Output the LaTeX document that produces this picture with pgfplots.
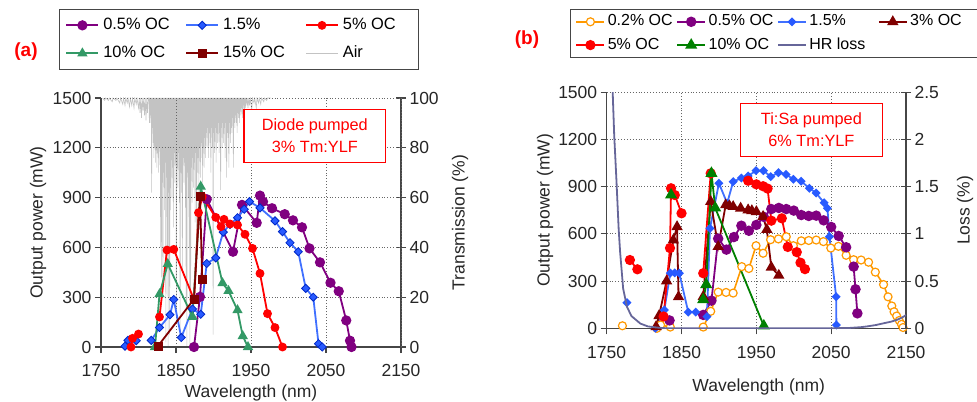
\documentclass[border=0pt]{standalone}
\usepackage{pgfplots}
\pgfplotsset{compat=1.18}
\usepackage{fontspec}
\setmainfont{Liberation Sans}
\definecolor{cPurple}{RGB}{128,0,128}
\definecolor{cBlueL}{RGB}{64,112,255}
\definecolor{cBlueF}{RGB}{40,90,255}
\definecolor{cBlueD}{RGB}{0,40,200}
\definecolor{cRed}{RGB}{255,0,0}
\definecolor{cSea}{RGB}{51,153,102}
\definecolor{cGreen}{RGB}{0,128,0}
\definecolor{cDRed}{RGB}{128,0,0}
\definecolor{cOrange}{RGB}{255,153,0}
\definecolor{cAir}{RGB}{195,195,195}
\definecolor{cHR}{RGB}{102,102,153}
\definecolor{cAxis}{RGB}{70,70,70}
\pgfplotsset{
  base/.style={
    scale only axis,
    xmin=1750, xmax=2150,
    /pgf/number format/1000 sep={},
    /pgf/number format/assume math mode=true,
    tick label style={font=\fontsize{17.5bp}{20bp}\selectfont, text=black!85},
    label style={font=\fontsize{17.5bp}{20bp}\selectfont, text=black!85},
    axis line style={cAxis, line width=1.1bp, -},
    tick style={cAxis, line width=1.1bp},
    major tick length=6bp,
    tick align=outside,
  },
  mainax/.style={base,
    axis x line*=bottom, axis y line*=left,
    xtick={1750,1850,...,2150},
    xticklabel style={yshift=-8bp},
    ymin=0, ymax=1500, ytick={0,300,...,1500},
    grid=major,
    major grid style={black!60, line width=0.9bp, dotted},
    clip=false, unbounded coords=jump,
    ylabel={Output power (mW)}, xlabel={Wavelength (nm)},
  },
  secax/.style={base, hide x axis, axis y line*=right, tick align=center, major tick length=10bp},
  ln/.style={line width=1.8bp},
}
\begin{document}
\begin{tikzpicture}
\useasboundingbox (0,0) rectangle (977bp,402bp);
\node[text=cRed, font=\bfseries\fontsize{19bp}{22bp}\selectfont] at (26bp,350bp) {(a)};
\node[text=cRed, font=\bfseries\fontsize{19bp}{22bp}\selectfont] at (527bp,362bp) {(b)};
% ---------------- (a) secondary: Air transmission
\begin{axis}[secax, at={(101bp,55bp)}, anchor=south west, width=300bp, height=249bp,
  ymin=0, ymax=100, ytick={0,20,...,100}, ylabel={Transmission (\%)},
  ylabel style={at={(axis description cs:1.197,0.5)}, anchor=center}]
\addplot[cAir, line width=0.6bp] coordinates {
(1752,100)(1755,99)(1756,100)(1760,99)(1761,100)(1765,98.5)(1766,100)(1770,99)(1771,100)(1775,98)(1776,100)(1779,97.5)(1780,100)(1782,97)(1783,100)(1785,98)(1786,100)(1788,96.5)(1789,100)(1791,97)(1792,100)(1794,96)(1795,100)(1797,97.5)(1798,100)(1800,96)(1801,100)(1802,94)(1803,100)(1804,92)(1805,100)(1806,95)(1807,100)(1808,93)(1809,100)(1810,91)(1811,100)(1812,94)(1813,100)
(1814,100)(1814.5,90)(1815,100)(1815.5,90)(1816,100)(1816.5,93)(1817,100)(1817.5,62)(1818,100)(1818.5,88)(1819,100)(1819.5,82)(1820,100)(1820.5,76)(1821,100)(1821.5,80)(1822,100)(1822.5,74)(1823,100)(1823.5,79)(1824,100)(1824.5,72)(1825,100)(1825.5,78)(1826,100)(1826.5,70)(1827,100)(1827.5,80)(1828,100)(1828.5,73)(1829,100)(1829.5,40)(1830,100)(1830.5,28)(1831,100)(1831.5,66)(1832,100)(1832.5,20)(1833,100)(1833.5,70)(1834,100)(1834.5,55)(1835,100)(1835.5,74)(1836,100)(1836.5,2)(1837,100)(1837.5,68)(1838,100)(1838.5,40)(1839,100)(1839.5,0)(1840,100)(1840.5,62)(1841,100)(1841.5,5)(1842,100)(1842.5,55)(1843,100)(1843.5,75)(1844,100)(1844.5,60)(1845,100)(1845.5,72)(1846,100)(1846.5,48)(1847,100)(1847.5,78)(1848,100)(1848.5,66)(1849,100)(1849.5,74)(1850,100)(1850.5,10)(1851,100)(1851.5,72)(1852,100)(1852.5,64)(1853,100)(1853.5,78)(1854,100)(1854.5,58)(1855,100)(1855.5,5)(1856,100)(1856.5,70)(1857,100)(1857.5,62)(1858,100)(1858.5,30)(1859,100)(1859.5,76)(1860,100)(1860.5,66)(1861,100)(1861.5,74)(1862,100)(1862.5,56)(1863,100)(1863.5,15)(1864,100)(1864.5,0)(1865,100)(1865.5,70)(1866,100)(1866.5,60)(1867,100)(1867.5,40)(1868,100)(1868.5,0)(1869,100)(1869.5,16)(1870,100)(1870.5,72)(1871,100)(1871.5,58)(1872,100)(1872.5,76)(1873,100)(1873.5,64)(1874,100)(1874.5,74)(1875,100)(1875.5,50)(1876,100)(1876.5,78)(1877,100)(1877.5,40)(1878,100)(1878.5,70)(1879,100)(1879.5,76)(1880,100)(1880.5,62)(1881,100)(1881.5,80)(1882,100)(1882.5,68)(1883,100)(1883.5,76)(1884,100)(1884.5,82)(1885,100)(1885.5,66)(1886,100)(1886.5,80)(1887,100)(1887.5,72)(1888,100)(1888.5,84)(1889,100)(1889.5,76)
(1890,100)(1890.5,86)(1891,100)(1891.5,80)(1892,100)(1892.5,88)(1893,100)(1893.5,76)(1894,100)(1894.5,86)(1895,100)(1895.5,82)(1896,100)(1896.5,70)(1897,100)(1897.5,88)(1898,100)(1898.5,80)(1899,100)(1899.5,5)(1900,100)(1900.5,86)(1901,100)(1901.5,78)(1902,100)(1902.5,88)(1903,100)(1903.5,74)(1904,100)(1904.5,86)(1905,100)(1905.5,82)(1906,100)(1906.5,90)(1907,100)(1907.5,78)(1908,100)(1908.5,86)(1909,100)(1909.5,63)(1910,100)(1910.5,88)(1911,100)(1911.5,80)(1912,100)(1912.5,90)(1913,100)(1913.5,82)(1914,100)(1914.5,88)(1915,100)(1915.5,76)(1916,100)(1916.5,90)(1917,100)(1917.5,68)(1918,100)(1918.5,86)(1919,100)(1919.5,84)(1920,100)(1920.5,72)(1921,100)(1921.5,90)(1922,100)(1922.5,82)(1923,100)(1923.5,88)(1924,100)(1924.5,86)(1925,100)(1925.5,92)(1926,100)(1926.5,72)(1927,100)(1927.5,90)(1928,100)(1928.5,88)(1929,100)(1929.5,93)(1930,100)(1930.5,90)(1931,100)(1931.5,86)(1932,100)(1932.5,94)(1933,100)(1933.5,92)(1934,100)(1934.5,90)(1935,100)(1935.5,95)(1936,100)(1936.5,93)(1937,100)(1937.5,96)(1938,100)(1938.5,92)(1939,100)(1939.5,95)(1940,100)(1940.5,97)(1941,100)(1941.5,94)(1942,100)(1942.5,96)(1943,100)(1943.5,98)(1944,100)(1944.5,97)(1945,100)
(1946,96)(1947,100)(1948,97)(1949,100)(1951,95)(1952,100)(1954,98)(1955,100)(1957,96)(1958,100)(1960,98)(1961,100)(1963,97.5)(1964,100)(1967,98.5)(1968,100)(1971,99)(1972,100)(1976,100)
};
\end{axis}
% ---------------- (a) main
\begin{axis}[mainax, at={(101bp,55bp)}, anchor=south west, width=300bp, height=249bp,
  ylabel style={at={(axis description cs:-0.21,0.5)}, anchor=center},
  xlabel style={at={(axis description cs:0.5,-0.183)}, anchor=center},
  legend columns=3,
  legend style={at={(axis description cs:-0.14,1.357)}, anchor=north west, draw=cAxis, line width=1bp, fill=white,
    font=\fontsize{16.4bp}{19bp}\selectfont, inner xsep=6bp, inner ysep=4bp, row sep=4.5bp,
    nodes={text height=12bp, text depth=3.5bp, inner sep=4bp}},
  legend cell align=left,
  legend image code/.code={\draw[mark repeat=2,mark phase=2,#1] plot coordinates {(0bp,0bp) (16bp,0bp) (32bp,0bp)};},
]
\addplot[cPurple, ln, mark=*, mark size=4.2bp, mark options={solid, fill=cPurple}] coordinates {
(1874,0)(1882,302)(1891,890)(1926,574)(1938,856)(1957.6,748)(1962,912)(1966,876)(1978,836)(1995,800)(2006,763)(2018,721)(2028,594)(2042,510)(2056,387)(2067,336)(2077,160)(2082,38)(2084,0)};
\addlegendentry{\makebox[78bp][l]{0.5\% OC}}
\addplot[cBlueL, ln, mark=square*, mark size=2.9bp, mark options={solid, rotate=45, fill=cBlueF, draw=cBlueD, line width=0.8bp}] coordinates {
(1782,5)(1786,40)(1797,38)(1800,nan)(1817,40)(1828,117)(1842,194)(1847,286)(1857,57)(1872,229)(1883,197)(1891,503)(1903,537)(1913,692)(1922,738)(1932,779)(1941,830)(1948,876)(1962,838)(1982,760)(1992,695)(2002,628)(2013,574)(2023,353)(2033,300)(2040,20)(2045,0)};
\addlegendentry{\makebox[78bp][l]{1.5\%}}
\addplot[cRed, ln, mark=*, mark size=3.5bp, mark options={solid, fill=cRed}] coordinates {
(1790,0)(1792,52)(1800,78)(1810,nan)(1828,181)(1838,584)(1847,588)(1874,286)(1880,809)(1885,905)(1903,781)(1910,725)(1914,769)(1922,741)(1932,735)(1942,679)(1952,594)(1962,443)(1972,201)(1982,117)(1992,0)};
\addlegendentry{\makebox[66bp][l]{5\% OC}}
\addplot[cSea, ln, mark=triangle*, mark size=4.2bp, mark options={solid, fill=cSea}] coordinates {
(1822,0)(1828,318)(1839,500)(1872,182)(1883,966)(1912,385)(1920,338)(1932,222)(1939,66)(1946,0)};
\addlegendentry{\makebox[78bp][l]{10\% OC}}
\addplot[cDRed, ln, mark=square*, mark size=3.6bp, mark options={solid, fill=cDRed}] coordinates {
(1826,6)(1874,288)(1882,904)(1885,404)};
\addlegendentry{\makebox[78bp][l]{15\% OC}}
\addlegendimage{cAir, line width=1bp}
\addlegendentry{\makebox[66bp][l]{Air}}
\node[draw=cRed, line width=1.3bp, fill=white, text=cRed, align=center, minimum width=141.7bp, minimum height=53.4bp,
  font=\fontsize{16.3bp}{22bp}\selectfont] at (axis description cs:0.7128,0.847) {Diode pumped\\3\% Tm:YLF};
\end{axis}
% ---------------- (b) main
\begin{axis}[mainax, at={(606.7bp,73.7bp)}, anchor=south west, width=299.3bp, height=236bp,
  ylabel style={at={(axis description cs:-0.206,0.5)}, anchor=center},
  xlabel style={at={(axis description cs:0.508,-0.247)}, anchor=center},
  legend columns=4,
  legend style={at={(axis description cs:-0.1226,1.3517)}, anchor=north west, draw=cAxis, line width=1bp, fill=white,
    font=\fontsize{16bp}{19bp}\selectfont, inner xsep=5bp, inner ysep=2bp, row sep=3.3bp,
    nodes={text height=11.5bp, text depth=3.5bp, inner sep=2.5bp}},
  legend cell align=left,
  legend image code/.code={\draw[mark repeat=2,mark phase=2,#1] plot coordinates {(0bp,0bp) (14bp,0bp) (28bp,0bp)};},
]
\addplot[cOrange, ln, line width=1.6bp, mark=*, mark size=4bp, mark options={solid, fill=white, draw=cOrange, line width=1.2bp}] coordinates {
(1771,16)(1790,nan)(1817,0)(1822,21)(1835,8)(1850,nan)(1879,8)(1889,108)(1899,230)(1909.5,228)(1919,224)(1930.5,392)(1940,380)(1949.6,525)(1959,477)(1969,563)(1979.5,568)(1990,582)(1999.5,525)(2010,556)(2020,558)(2030,561)(2039.6,551)(2049.5,510)(2059.7,521)(2070,464)(2080,436)(2090,434)(2100,420)(2109,357)(2120,278)(2126,200)(2131,142)(2134,105)(2137.5,78)(2141,50)(2144,25)(2146,5)};
\addlegendentry{\makebox[66bp][l]{0.2\% OC}}
\addplot[cPurple, ln, mark=*, mark size=4.3bp, mark options={solid, fill=cPurple}] coordinates {
(1834,50)(1850,nan)(1879,85)(1890,176)(1899,570)(1910,500)(1920,580)(1930,652)(1940,620)(1950,657)(1960,708)(1970,758)(1980,765)(1990,758)(2000,748)(2010,720)(2020,714)(2030,716)(2040,686)(2050,644)(2060,587)(2070,515)(2080,392)(2082.5,248)(2085,95)};
\addlegendentry{\makebox[66bp][l]{0.5\% OC}}
\addplot[cBlueL, ln, mark=square*, mark size=2.3bp, mark options={solid, rotate=45, fill=cBlueF, draw=cBlueF}] coordinates {
(1777,163)(1790,nan)(1815,0)(1827,116)(1835,351)(1841,352)(1847,350)(1859,103)(1869,103)(1884,74)(1888,635)(1900,922)(1911,795)(1919,932)(1930,955)(1939,968)(1949.6,1002)(1959.4,1002)(1969.2,964)(1979.5,989)(1989.7,978)(1999.5,947)(2009.8,935)(2020.9,890)(2029.8,860)(2040.5,798)(2045,763)(2047.7,582)(2056.6,201)(2057,21)};
\addlegendentry{\makebox[66bp][l]{1.5\%}}
\addplot[cDRed, ln, mark=triangle*, mark size=4.8bp, mark options={solid, fill=cDRed}] coordinates {
(1816,10)(1820,80)(1830,300)(1839,560)(1844,645)(1846,200)(1860,nan)(1879,201)(1889,805)(1899,519)(1909,784)(1914,778)(1919,773)(1929,763)(1939,752)(1944,747)(1950,741)(1959,710)(1964,627)(1970,388)(1980,336)};
\addlegendentry{\makebox[66bp][l]{3\% OC}}
\addplot[cRed, ln, mark=*, mark size=4.2bp, mark options={solid, fill=cRed}] coordinates {
(1781,434)(1791,375)(1800,nan)(1826,75)(1834.6,510)(1836,890)(1841,847)(1850,731)(1860,nan)(1879,350)(1889,985)(1900,nan)(1939,938)(1950,915)(1959,903)(1965,888)(1970,684)(1984,699)(1992,517)(2004,484)(2009,417)(2015,376)};
\addlegendentry{\makebox[66bp][l]{5\% OC}}
\addplot[cGreen, ln, mark=triangle*, mark size=5.2bp, mark options={solid, fill=cGreen}] coordinates {
(1836,848)(1850,nan)(1879,183)(1883,278)(1890,985)(1895,765)(1960,15)};
\addlegendentry{\makebox[66bp][l]{10\% OC}}
\addlegendimage{cHR, line width=1.8bp}
\addlegendentry{\makebox[66bp][l]{HR loss}}
\node[draw=cRed, line width=1.3bp, fill=white, text=cRed, align=center, minimum width=141.6bp, minimum height=53.4bp,
  font=\fontsize{16.3bp}{22bp}\selectfont] at (axis description cs:0.684,0.840) {Ti:Sa pumped\\6\% Tm:YLF};
\end{axis}
% ---------------- (b) secondary: HR loss
\begin{axis}[secax, at={(606.7bp,73.7bp)}, anchor=south west, width=299.3bp, height=236bp,
  ymin=0, ymax=2.5, ytick={0,0.5,...,2.5}, ylabel={Loss (\%)},
  ylabel style={at={(axis description cs:1.197,0.5)}, anchor=center}]
\addplot[cHR, line width=1.8bp] coordinates {
(1756,3.3)(1758,2.5)(1760,2.05)(1763,1.57)(1766,1.05)(1768,0.8)(1772,0.42)(1777,0.23)(1783,0.13)(1795,0.05)(1805,0.02)(1817,0.008)(1830,0)(2050,0)(2075,0.004)(2090,0.012)(2098,0.02)(2110,0.035)(2120,0.053)(2130,0.07)(2138,0.09)(2145,0.115)(2150,0.14)};
\end{axis}
\end{tikzpicture}
\end{document}
